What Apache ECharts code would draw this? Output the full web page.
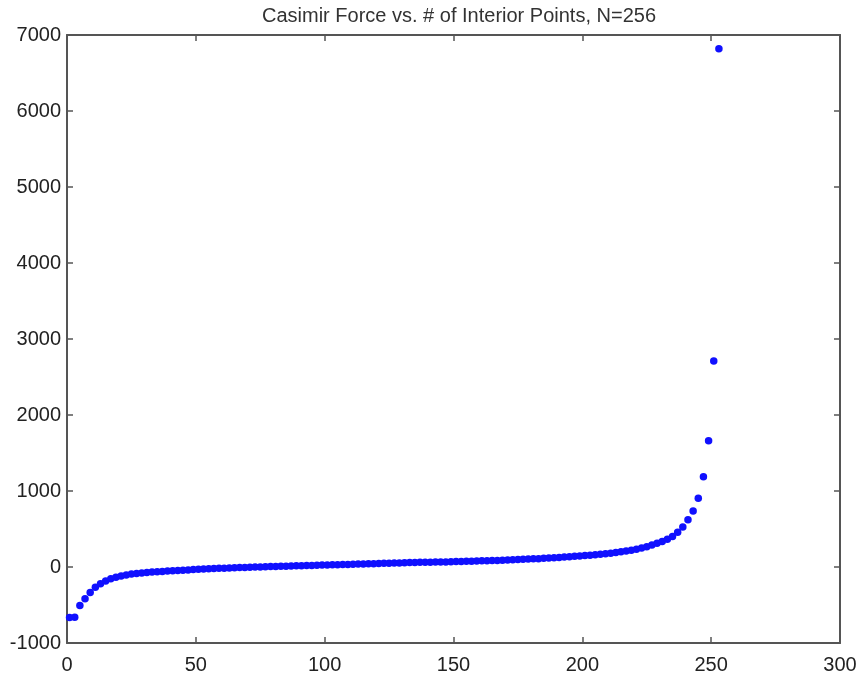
<!DOCTYPE html>
<html>
<head>
<meta charset="utf-8">
<script src="https://cdn.jsdelivr.net/npm/echarts@6/dist/echarts.min.js"></script>
<style>html,body{margin:0;padding:0;background:#fff}#c{width:860px;height:683px}</style>
</head>
<body>
<div id="c"></div>
<script>
const titleText = "Casimir Force vs. # of Interior Points, N=256";
const xTicks = [0, 50, 100, 150, 200, 250, 300];
const yTicks = [-1000, 0, 1000, 2000, 3000, 4000, 5000, 6000, 7000];
const interiorPoints = [
  1,3,5,7,9,11,13,15,17,19,21,23,25,27,29,31,33,35,37,39,
  41,43,45,47,49,51,53,55,57,59,61,63,65,67,69,71,73,75,77,79,
  81,83,85,87,89,91,93,95,97,99,101,103,105,107,109,111,113,115,117,119,
  121,123,125,127,129,131,133,135,137,139,141,143,145,147,149,151,153,155,157,159,
  161,163,165,167,169,171,173,175,177,179,181,183,185,187,189,191,193,195,197,199,
  201,203,205,207,209,211,213,215,217,219,221,223,225,227,229,231,233,235,237,239,
  241,243,245,247,249,251,253
];
const casimirForce = [
  -665,-660,-506,-418,-335,-268,-220,-184,-156,-134,-117,-104,-93,-85,-78,-72,-67,-62,-58,-54,
  -50,-46,-42,-38,-34,-30,-27,-24,-21,-18,-15,-12,-10,-7,-5,-3,-1,1,3,5,
  7,9,11,13,15,17,19,21,23,25,27,28,30,32,34,36,38,40,42,44,
  46,48,50,52,54,56,58,60,62,63,64,65,66,67,69,71,73,75,77,79,
  81,83,85,87,89,92,95,98,101,104,107,110,114,118,122,126,130,135,140,145,
  150,156,162,168,175,182,190,200,210,222,235,250,267,290,312,334,364,400,457,527,
  623,738,905,1186,1660,2710,6820
];
const points = interiorPoints.map((x, i) => [x, casimirForce[i]]);

const axisColor = '#555';
const textColor = '#222';
const font = 'Liberation Sans, Arial, sans-serif';

const chart = echarts.init(document.getElementById('c'));
chart.setOption({
  animation: false,
  title: {
    text: titleText, left: 454, top: 1, textAlign: 'center',
    textStyle: {fontFamily: font, fontSize: 20, fontWeight: 'normal', color: '#333'}
  },
  grid: {left: 67, right: 20, top: 35, bottom: 40, containLabel: false},
  xAxis: [{
    type: 'value', min: 0, max: 300, interval: 50, position: 'bottom',
    axisLine: {show: true, onZero: false, lineStyle: {color: axisColor, width: 2}},
    axisTick: {show: true, inside: true, length: 6, lineStyle: {color: axisColor, width: 1.5}},
    axisLabel: {color: textColor, fontFamily: font, fontSize: 20, margin: 12,
      formatter: v => xTicks.includes(v) ? String(v) : ''},
    splitLine: {show: false}
  }, {
    type: 'value', min: 0, max: 300, interval: 50, position: 'top',
    axisLine: {show: true, onZero: false, lineStyle: {color: axisColor, width: 2}},
    axisTick: {show: true, inside: true, length: 6, lineStyle: {color: axisColor, width: 1.5}},
    axisLabel: {show: false}, splitLine: {show: false}
  }],
  yAxis: [{
    type: 'value', min: -1000, max: 7000, interval: 1000, position: 'left',
    axisLine: {show: true, onZero: false, lineStyle: {color: axisColor, width: 2}},
    axisTick: {show: true, inside: true, length: 6, lineStyle: {color: axisColor, width: 1.5}},
    axisLabel: {color: textColor, fontFamily: font, fontSize: 20, margin: 6,
      formatter: v => yTicks.includes(v) ? String(v) : ''},
    splitLine: {show: false}
  }, {
    type: 'value', min: -1000, max: 7000, interval: 1000, position: 'right',
    axisLine: {show: true, onZero: false, lineStyle: {color: axisColor, width: 2}},
    axisTick: {show: true, inside: true, length: 6, lineStyle: {color: axisColor, width: 1.5}},
    axisLabel: {show: false}, splitLine: {show: false}
  }],
  series: [{
    type: 'scatter', xAxisIndex: 0, yAxisIndex: 0,
    data: points, symbol: 'circle', symbolSize: 7.5,
    itemStyle: {color: '#1010ff', opacity: 1}
  }]
});
</script>
</body>
</html>
